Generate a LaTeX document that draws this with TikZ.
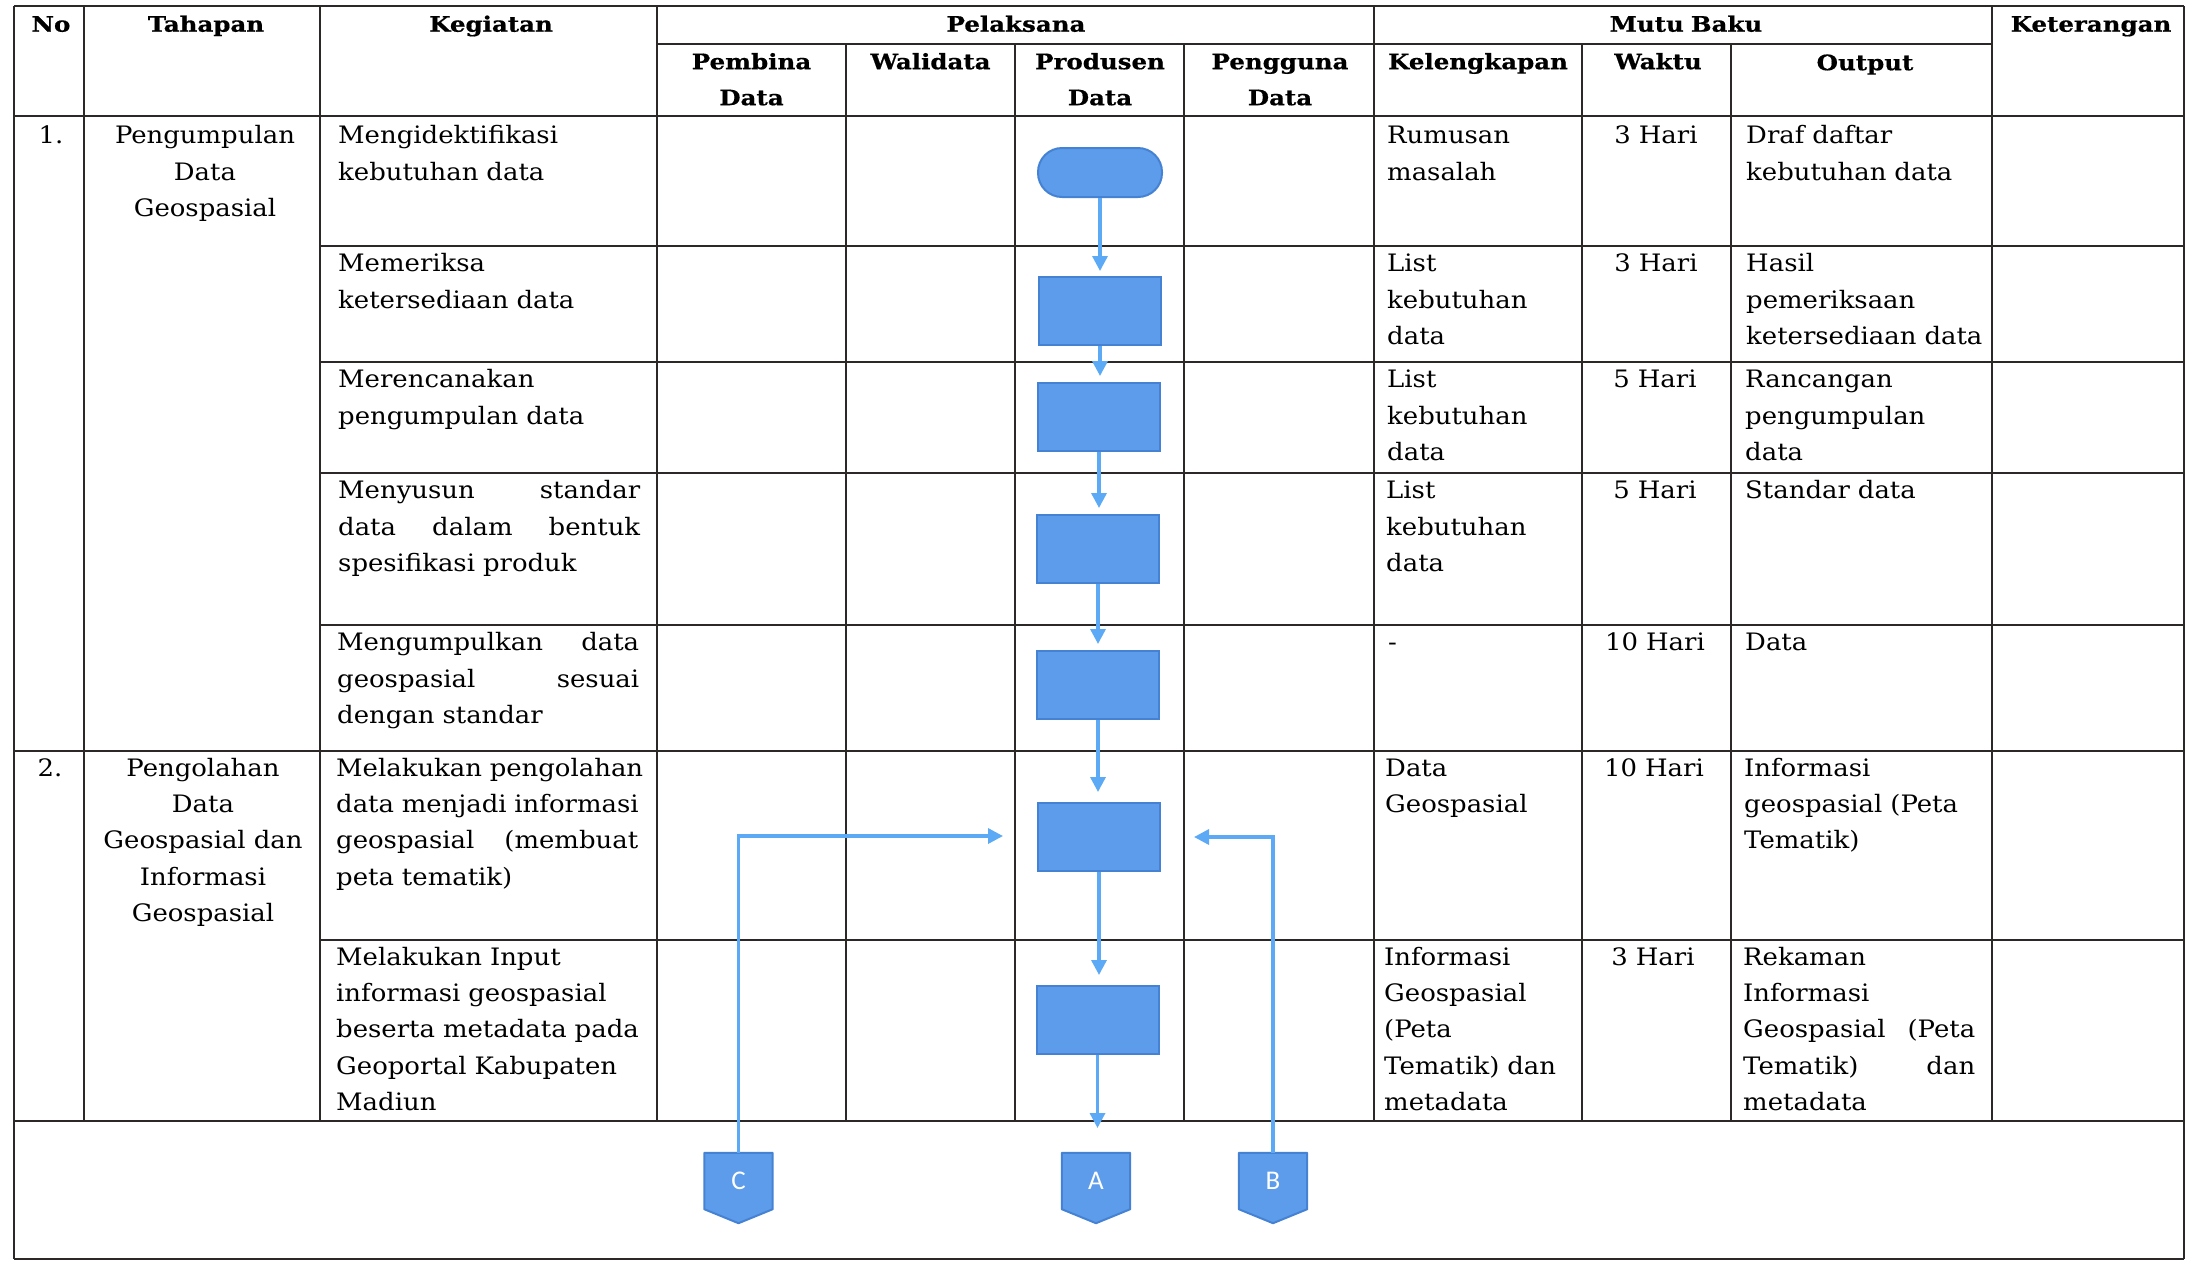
\documentclass[tikz,border=0pt]{standalone}
\usepackage{fontspec}
\setmainfont{DejaVu Serif}[FakeStretch=1.08]
\newfontfamily\hdrfont{DejaVu Serif}[FakeStretch=1.15, BoldFeatures={FakeBold=0.6}]
\newfontfamily\connfont{Carlito}
\usetikzlibrary{arrows.meta,backgrounds}
\definecolor{boxfill}{RGB}{92,156,234}
\definecolor{boxline}{RGB}{70,130,212}
\definecolor{flowline}{RGB}{92,170,245}
\definecolor{tline}{RGB}{45,40,40}
\newcommand{\bodyfs}{\fontsize{24}{36.3}\selectfont}
\newcommand{\hdrfs}{\hdrfont\bfseries\fontsize{21.3}{36}\selectfont}
\newcommand{\fst}[1]{\rule{0pt}{#1}}
\newcommand{\justline}[2][302pt]{\makebox[#1][s]{\spaceskip=.32em plus 1fil\relax #2}}
\tikzset{
  tbl/.style={draw=tline, line width=2pt},
  cellL/.style={anchor=north west, inner sep=0pt, text width=#1, align=left, font=\bodyfs},
  cellC/.style={anchor=north, inner sep=0pt, text width=#1, align=center, font=\bodyfs},
  hcell/.style={anchor=north, inner sep=0pt, text width=#1, align=center, font=\hdrfs},
  proc/.style={rectangle, minimum width=122pt, minimum height=68pt, inner sep=0pt, fill=boxfill, draw=boxline, line width=2pt},
  term/.style={rectangle, rounded corners=24pt, minimum width=124pt, minimum height=49pt, inner sep=0pt, fill=boxfill, draw=boxline, line width=2pt},
  conn/.style={rectangle, minimum width=68pt, minimum height=56pt, inner sep=0pt, text=white, font=\connfont\fontsize{27}{30}\selectfont},
  flow/.style={draw=flowline, line width=3.3pt, -{Triangle[width=15pt,length=15pt]}},
}
\begin{document}
\begin{tikzpicture}[x=1pt,y=-1pt]
\useasboundingbox (0,0) rectangle (2192,1262);
% ---------- table lines ----------
\draw[tbl] (14,6) -- (2184,6);
\draw[tbl] (657,44) -- (1992,44);
\draw[tbl] (14,116) -- (2184,116);
\foreach \y in {246,362,473,625} \draw[tbl] (320,\y) -- (2184,\y);
\draw[tbl] (14,751) -- (2184,751);
\draw[tbl] (320,940) -- (2184,940);
\draw[tbl] (14,1121) -- (2184,1121);
\draw[tbl] (14,1259) -- (2184,1259);
\draw[tbl] (14,6) -- (14,1259);
\draw[tbl] (2184,6) -- (2184,1259);
\foreach \x in {84,320,657,1374,1992} \draw[tbl] (\x,6) -- (\x,1121);
\foreach \x in {846,1015,1184,1582,1731} \draw[tbl] (\x,44) -- (\x,1121);
% ---------- headers ----------
\node[hcell=70pt] (hNo) at (51,6) {\fst{25.5pt}No};
\node[hcell=230pt] (hTah) at (206,6) {\fst{25.5pt}Tahapan};
\node[hcell=330pt] (hKeg) at (491,6) {\fst{25.5pt}Kegiatan};
\node[hcell=700pt] (hPel) at (1016,6) {\fst{25.5pt}Pelaksana};
\node[hcell=600pt] (hMutu) at (1686,6) {\fst{25.5pt}Mutu Baku};
\node[hcell=190pt] (hKet) at (2091,6) {\fst{25.5pt}Keterangan};
\node[hcell=185pt] (hPem) at (751.5,44) {\fst{25pt}Pembina\\Data};
\node[hcell=165pt] (hWal) at (930.5,44) {\fst{25pt}Walidata};
\node[hcell=165pt] (hPro) at (1100,44) {\fst{25pt}Produsen\\Data};
\node[hcell=185pt] (hPeng) at (1280,44) {\fst{25pt}Pengguna\\Data};
\node[hcell=205pt] (hKel) at (1478,44) {\fst{25pt}Kelengkapan};
\node[hcell=145pt] (hWak) at (1658,44) {\fst{25pt}Waktu};
\node[hcell=255pt] (hOut) at (1865,44) {\fst{26pt}Output};
% ---------- No ----------
\node[cellC=60pt] (n1) at (51,116) {\fst{27.5pt}1.};
\node[cellC=60pt] (n2) at (50,751) {\fst{25pt}2.};
% ---------- Tahapan ----------
\node[cellC=236pt] (t1) at (205,116) {\fst{27.5pt}Pengumpulan\\Data\\Geospasial};
\node[cellC=236pt] (t2) at (203,751) {\fst{25pt}Pengolahan\\Data\\Geospasial dan\\Informasi\\Geospasial};
% ---------- Kegiatan ----------
\node[cellL=380pt] (k1) at (338,116) {\fst{27.5pt}Mengidektifikasi\\kebutuhan data};
\node[cellL=380pt] (k2) at (338,246) {\fst{25.5pt}Memeriksa\\ketersediaan data};
\node[cellL=380pt] (k3) at (338,362) {\fst{25.5pt}Merencanakan\\pengumpulan data};
\node[cellL=380pt] (k4) at (338,473) {\fst{25.5pt}\justline{Menyusun standar}\\\justline{data dalam bentuk}\\spesifikasi produk};
\node[cellL=380pt] (k5) at (337,625) {\fst{25.5pt}\justline{Mengumpulkan data}\\\justline{geospasial sesuai}\\dengan standar};
\node[cellL=380pt] (k6) at (336,751) {\fst{25pt}\justline{Melakukan pengolahan}\\\justline{data menjadi informasi}\\\justline{geospasial (membuat}\\peta tematik)};
\node[cellL=380pt] (k7) at (336,940) {\fst{25pt}Melakukan Input\\informasi geospasial\\beserta metadata pada\\Geoportal Kabupaten\\Madiun};
% ---------- Kelengkapan ----------
\node[cellL=230pt] (l1) at (1387,116) {\fst{27.5pt}Rumusan\\masalah};
\node[cellL=230pt] (l2) at (1387,246) {\fst{25.5pt}List\\kebutuhan\\data};
\node[cellL=230pt] (l3) at (1387,362) {\fst{25.5pt}List\\kebutuhan\\data};
\node[cellL=230pt] (l4) at (1386,473) {\fst{25.5pt}List\\kebutuhan\\data};
\node[cellL=230pt] (l5) at (1388,625) {\fst{25.5pt}-};
\node[cellL=230pt] (l6) at (1385,751) {\fst{25pt}Data\\Geospasial};
\node[cellL=230pt] (l7) at (1384,940) {\fst{25pt}Informasi\\Geospasial\\(Peta\\Tematik) dan\\metadata};
% ---------- Waktu ----------
\node[cellC=140pt] (w1) at (1656,116) {\fst{27.5pt}3 Hari};
\node[cellC=140pt] (w2) at (1656,246) {\fst{25.5pt}3 Hari};
\node[cellC=140pt] (w3) at (1655,362) {\fst{25.5pt}5 Hari};
\node[cellC=140pt] (w4) at (1655,473) {\fst{25.5pt}5 Hari};
\node[cellC=140pt] (w5) at (1655,625) {\fst{25.5pt}10 Hari};
\node[cellC=140pt] (w6) at (1654,751) {\fst{25pt}10 Hari};
\node[cellC=140pt] (w7) at (1653,940) {\fst{25pt}3 Hari};
% ---------- Output ----------
\node[cellL=260pt] (o1) at (1746,116) {\fst{27.5pt}Draf daftar\\kebutuhan data};
\node[cellL=260pt] (o2) at (1746,246) {\fst{25.5pt}Hasil\\pemeriksaan\\ketersediaan data};
\node[cellL=260pt] (o3) at (1745,362) {\fst{25.5pt}Rancangan\\pengumpulan\\data};
\node[cellL=260pt] (o4) at (1745,473) {\fst{25.5pt}Standar data};
\node[cellL=260pt] (o5) at (1745,625) {\fst{25.5pt}Data};
\node[cellL=260pt] (o6) at (1744,751) {\fst{25pt}Informasi\\geospasial (Peta\\Tematik)};
\node[cellL=260pt] (o7) at (1743,940) {\fst{25pt}Rekaman\\Informasi\\\justline[232pt]{Geospasial (Peta}\\\justline[232pt]{Tematik) dan}\\metadata};
% ---------- flowchart ----------
\node[term] (s) at (1100,172.5) {};
\node[proc] (b2) at (1100,311) {};
\node[proc] (b3) at (1099,417) {};
\node[proc] (b4) at (1098,549) {};
\node[proc] (b5) at (1098,685) {};
\node[proc] (b6) at (1099,837) {};
\node[proc] (b7) at (1097.5,1020) {};
\node[conn] (C) at (738.5,1181) {C};
\node[conn] (A) at (1096,1181) {A};
\node[conn] (B) at (1273,1181) {B};
\coordinate (aTip) at (1097.5,1128);
\coordinate (cTip) at (1003,836);
\coordinate (bTip) at (1194,837);
\begin{scope}[on background layer]
\foreach \n in {C,A,B}
  \filldraw[fill=boxfill, draw=boxline, line width=2pt, line join=round]
    (\n.north west) -- (\n.north east) -- (\n.south east) -- ([yshift=-14pt]\n.south) -- (\n.south west) -- cycle;
\end{scope}
\draw[flow, shorten >=5pt] (s.south) -- (s.south |- b2.north);
\draw[flow, shorten >=6pt] (b2.south) -- (b2.south |- b3.north);
\draw[flow, shorten >=6pt] (b3.south) -- (b3.south |- b4.north);
\draw[flow, shorten >=6pt] (b4.south) -- (b4.south |- b5.north);
\draw[flow, shorten >=10pt] (b5.south) -- (b5.south |- b6.north);
\draw[flow, shorten >=10pt] (b6.south) -- (b6.south |- b7.north);
\draw[flow] (b7.south) -- (aTip);
\draw[flow] (C.north) |- (cTip);
\draw[flow] (B.north) |- (bTip);
\end{tikzpicture}
\end{document}
